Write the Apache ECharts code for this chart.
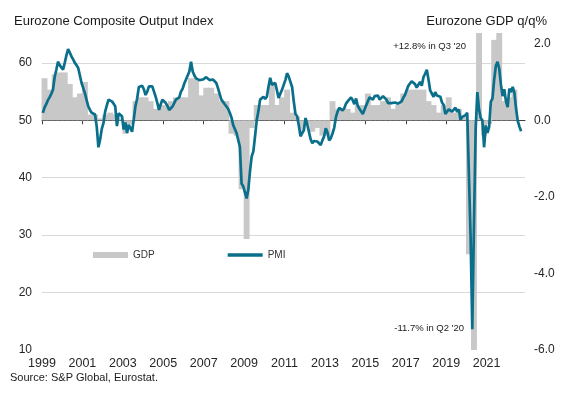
<!DOCTYPE html>
<html>
<head>
<meta charset="utf-8">
<script src="https://cdn.jsdelivr.net/npm/echarts@6/dist/echarts.min.js"></script>
<style>
html,body{margin:0;padding:0;background:#fff;}
#chart{width:582px;height:399px;}
</style>
</head>
<body>
<div id="chart"></div>
<script>
// ---- Data ----
const startYear = 1999;
// Eurozone Composite Output Index (PMI), monthly from Jan 1999
const pmi = [
  51.3, 52.2, 52.8, 53.5, 54.0, 54.6, 55.3, 57.5, 58.8, 60.2, 59.6, 59.3,
  58.8, 60.0, 61.3, 62.4, 61.8, 61.1, 60.6, 60.0, 59.6, 59.1, 57.8, 56.5,
  55.6, 54.7, 53.5, 52.4, 51.8, 51.3, 51.2, 51.0, 48.9, 45.3, 46.6, 48.5,
  49.5, 51.5, 52.6, 53.6, 53.5, 53.3, 52.9, 52.4, 49.0, 51.2, 51.0, 50.7,
  48.4, 49.6, 47.8, 49.2, 48.6, 48.0, 50.2, 52.5, 53.8, 55.8, 56.0, 56.0,
  55.4, 54.4, 55.0, 55.9, 55.9, 55.9, 55.0, 54.1, 53.0, 51.8, 52.8, 53.6,
  53.4, 53.0, 52.5, 51.8, 52.1, 52.4, 53.0, 53.6, 53.6, 54.0, 55.0, 55.5,
  56.4, 57.1, 57.8, 58.5, 60.2, 58.5, 57.8, 57.3, 57.1, 57.0, 57.1, 57.1,
  57.3, 57.5, 57.6, 57.0, 56.8, 57.1, 57.4, 56.5, 55.6, 54.6, 53.6, 53.2,
  52.8, 52.7, 52.0, 51.3, 50.5, 49.2, 48.9, 47.8, 48.0, 45.4, 39.0, 38.5,
  38.3, 36.4, 37.9, 41.1, 43.7, 44.6, 47.2, 50.0, 51.6, 53.6, 53.7, 54.1,
  53.7, 54.1, 55.9, 57.4, 56.2, 56.0, 56.5, 56.2, 53.9, 53.8, 55.3, 55.5,
  57.0, 58.2, 57.6, 57.8, 55.8, 53.3, 51.1, 50.7, 49.1, 47.2, 47.0, 48.3,
  50.4, 49.3, 49.1, 46.7, 46.0, 46.4, 46.5, 46.3, 46.1, 45.7, 46.5, 47.2,
  48.6, 47.9, 46.5, 46.9, 47.7, 48.7, 50.5, 51.5, 52.2, 51.9, 51.7, 52.1,
  52.9, 53.3, 53.1, 54.0, 53.5, 52.8, 53.8, 52.5, 52.0, 52.1, 51.1, 51.4,
  52.6, 53.3, 54.0, 53.9, 53.6, 54.2, 53.9, 54.3, 53.6, 53.9, 54.2, 54.3,
  53.6, 53.0, 53.1, 53.0, 53.1, 53.1, 53.2, 52.9, 52.6, 53.3, 53.9, 54.4,
  54.4, 56.0, 56.4, 56.8, 56.8, 56.3, 55.7, 55.7, 56.7, 56.0, 57.5, 58.1,
  58.8, 57.1, 55.2, 55.1, 54.1, 54.9, 54.3, 54.5, 54.1, 53.1, 52.7, 51.1,
  51.0, 51.9, 51.6, 51.5, 51.8, 52.2, 51.5, 51.9, 50.1, 50.6, 50.6, 50.9,
  51.3, 51.6, 29.7, 13.6, 31.9, 48.5, 54.9, 51.9, 50.4, 50.0, 45.3, 49.1,
  47.8, 48.8, 53.2, 53.8, 57.1, 59.5, 60.2, 59.0, 56.2, 54.2, 55.4, 53.3,
  52.3, 55.5, 54.9, 55.8, 54.8, 52.0, 49.9, 48.9, 48.1
];
// Eurozone GDP q/q %, quarterly from Q1 1999
const gdp = [
  1.1, 0.8, 1.2, 1.25,
  1.25, 0.95, 0.6, 0.7,
  1.0, 0.15, 0.15, 0.05,
  0.15, 0.2, 0.15, 0.05,
  -0.35, -0.1, 0.5, 0.6,
  0.6, 0.5, 0.3, 0.4,
  0.4, 0.5, 0.6, 0.6,
  0.6, 1.1, 1.1, 0.65,
  0.85, 0.85, 0.7, 0.5,
  0.5, -0.35, -0.4, -1.8,
  -3.1, -0.2, 0.4, 0.4,
  0.4, 1.0, 0.4, 0.6,
  0.8, 0.2, 0.1, -0.3,
  -0.1, -0.3, -0.2, -0.4,
  -0.4, 0.5, 0.3, 0.3,
  0.3, 0.2, 0.4, 0.4,
  0.7, 0.4, 0.4, 0.5,
  0.6, 0.3, 0.4, 0.7,
  0.8, 0.8, 0.8, 0.8,
  0.5, 0.4, 0.2, 0.4,
  0.6, 0.2, 0.3, 0.1,
  -3.5, -11.7, 12.8, -0.4,
  -0.1, 2.1, 2.3, 0.5,
  0.6, 0.8
];
const seriesNames = ['GDP', 'PMI'];
const titleLeft = 'Eurozone Composite Output Index';
const titleRight = 'Eurozone GDP q/q%';
const noteHigh = "+12.8% in Q3 '20";
const noteLow = "-11.7% in Q2 '20";
const sourceText = 'Source: S&P Global, Eurostat.';

// ---- Build ----
const pmiData = pmi.map((v, i) => [startYear + (i + 0.5) / 12, v]);
const gdpData = gdp.map((v, i) => [startYear + (i + 0.5) / 4, v]);

const FONT = '"Liberation Sans", Arial, sans-serif';
const TEAL = '#0a6f8b';
const GREY = '#c8c8c8';

const chart = echarts.init(document.getElementById('chart'), null, {renderer: 'canvas'});
chart.setOption({
  animation: false,
  backgroundColor: '#ffffff',
  textStyle: {fontFamily: FONT},
  title: [
    {text: titleLeft, left: 14, top: 15, padding: 0,
     textStyle: {fontSize: 13, fontWeight: 'normal', color: '#1a1a1a', fontFamily: FONT}},
    {text: titleRight, right: 35, top: 15, padding: 0,
     textStyle: {fontSize: 13, fontWeight: 'normal', color: '#1a1a1a', fontFamily: FONT}}
  ],
  legend: {
    left: 93, top: 250, padding: 0,
    itemWidth: 35, itemHeight: 6, itemGap: 73,
    textStyle: {fontSize: 10, color: '#333', fontFamily: FONT},
    data: [
      {name: seriesNames[0], icon: 'rect', itemStyle: {color: GREY}},
      {name: seriesNames[1], icon: 'path://M0,0H32V3H0Z', itemStyle: {color: TEAL}}
    ]
  },
  grid: {left: 42, right: 57, top: 33, bottom: 49, containLabel: false},
  xAxis: {
    type: 'value', min: 1999, max: 2022.9, interval: 2,
    axisLine: {show: true, lineStyle: {color: '#404040', width: 1}},
    axisTick: {show: true, length: 4, lineStyle: {color: '#404040'}},
    splitLine: {show: false},
    axisLabel: {
      showMaxLabel: false, margin: 7, fontSize: 12.5, color: '#262626', fontFamily: FONT,
      formatter: v => String(Math.round(v))
    }
  },
  yAxis: [
    {
      type: 'value', min: 10, max: 65.2, interval: 10, position: 'left',
      axisLine: {show: false}, axisTick: {show: false},
      splitLine: {show: true, showMaxLine: false, showMinLine: false, lineStyle: {color: '#d9d9d9', width: 1}},
      axisLabel: {showMaxLabel: false, margin: 10, fontSize: 12, color: '#262626', fontFamily: FONT,
        formatter: v => String(Math.round(v))}
    },
    {
      type: 'value', min: -6, max: 2.28, interval: 2, position: 'right',
      axisLine: {show: false}, axisTick: {show: false},
      splitLine: {show: false},
      axisLabel: {showMaxLabel: false, margin: 9, fontSize: 12, color: '#262626', fontFamily: FONT,
        formatter: v => v.toFixed(1)}
    }
  ],
  series: [
    {
      name: seriesNames[0], type: 'bar', xAxisIndex: 0, yAxisIndex: 1,
      data: gdpData, barWidth: 5.9, clip: true,
      itemStyle: {color: GREY},
      emphasis: {disabled: true}, z: 1
    },
    {
      name: seriesNames[1], type: 'line', xAxisIndex: 0, yAxisIndex: 0,
      data: pmiData, symbol: 'none', showSymbol: false, clip: true,
      lineStyle: {color: TEAL, width: 2.7},
      itemStyle: {color: TEAL},
      emphasis: {disabled: true}, z: 3
    }
  ],
  graphic: [
    {type: 'text', x: 466, y: 46, z: 10,
     style: {text: noteHigh, fontSize: 9.5, fill: '#1a1a1a', font: '9.5px ' + FONT, textAlign: 'right', textVerticalAlign: 'middle'}},
    {type: 'text', x: 464, y: 328, z: 10,
     style: {text: noteLow, fontSize: 9.5, fill: '#1a1a1a', font: '9.5px ' + FONT, textAlign: 'right', textVerticalAlign: 'middle'}},
    {type: 'text', x: 10, y: 378, z: 10,
     style: {text: sourceText, fontSize: 11, fill: '#1a1a1a', font: '11px ' + FONT, textAlign: 'left', textVerticalAlign: 'middle'}}
  ]
});
</script>
</body>
</html>
